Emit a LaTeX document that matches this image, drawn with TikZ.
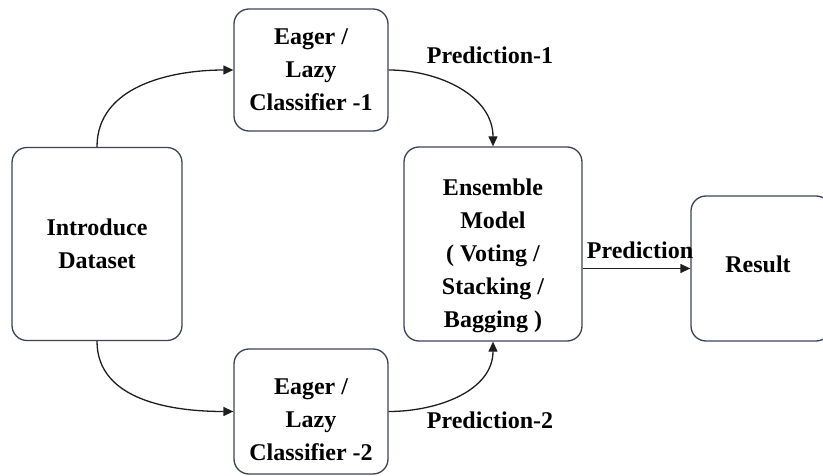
\documentclass[tikz,border=0pt]{standalone}
\usepackage{fontspec}
\setmainfont{Liberation Serif}
\usepackage{tikz}
\usetikzlibrary{arrows.meta,positioning,calc}
\definecolor{boxline}{HTML}{3E4258}
\definecolor{arrowline}{HTML}{1E1E1E}

\begin{document}
\begin{tikzpicture}[x=1pt,y=-1pt,font=\fontsize{24}{33}\selectfont\bfseries,
  box/.style={draw=boxline,line width=1.3pt,rounded corners=15pt,align=center,inner sep=0pt},
  flow/.style={arrowline,line width=1.3pt,-{Triangle[length=10pt,width=9pt]}},
  lbl/.style={inner sep=0pt}]
  \useasboundingbox (0,0) rectangle (823,476);
  \node[box,minimum width=170pt,minimum height=193pt] (data) at (97,244) {Introduce\\Dataset};
  \node[box,minimum width=154pt,minimum height=122pt] (cls1) at (311,70) {Eager /\\Lazy\\Classifier -1};
  \node[box,minimum width=154pt,minimum height=125pt] (cls2) at (311,411.5) {\rule{0pt}{32pt}Eager /\\Lazy\\Classifier -2};
  \node[box,minimum width=178pt,minimum height=194pt] (ens) at (493,244) {\rule{0pt}{40pt}Ensemble\\Model\\( Voting /\\Stacking /\\Bagging )};
  \node[box,minimum width=140pt,minimum height=145pt] (res) at (761,268.5) {\hspace*{-6pt}Result\rule[-8pt]{0pt}{8pt}};
  % connectors
  \draw[flow] (data.north) to[out=90,in=180] (cls1.west);
  \draw[flow] (data.south) to[out=-90,in=180] (cls2.west);
  \draw[flow] (cls1.east) to[out=0,in=90] (ens.north);
  \draw[flow] (cls2.east) to[out=0,in=-90] (ens.south);
  \draw[flow] (res.west -| ens.east) -- (res.west);
  % labels
  \node[lbl] (p1) at (490,55) {Prediction-1};
  \node[lbl] (p2) at (490,420) {Prediction-2};
  \node[lbl] (p) at (640,250) {Prediction};
\end{tikzpicture}
\end{document}
